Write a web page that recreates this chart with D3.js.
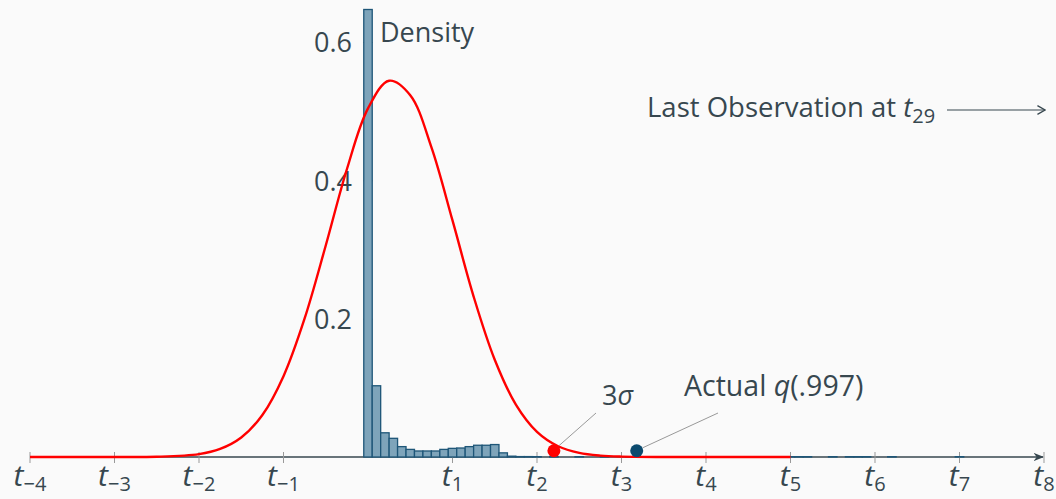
<!DOCTYPE html>
<html><head><meta charset="utf-8">
<script src="https://cdn.jsdelivr.net/npm/d3@7"></script>
<style>
html,body{margin:0;padding:0;background:#fafafa;}
svg{display:block;font-family:"Open Sans",sans-serif;}
</style></head>
<body>
<svg id="c" width="1056" height="499"></svg>
<script>
// ---- data ----
const tickValues = [-4,-3,-2,-1,1,2,3,4,5,6,7,8];
const tickSubs = ["\u22124","\u22123","\u22122","\u22121","1","2","3","4","5","6","7","8"];
const yTicks = [0.2,0.4,0.6];
const yTickLabels = ["0.2","0.4","0.6"];
// histogram: bin centres and densities
const binCenters = [0,0.1,0.2,0.3,0.4,0.5,0.6,0.7,0.8,0.9,1.0,1.1,1.2,1.3,1.4,1.5,1.6,1.7,1.8,1.9,2.0,2.2,2.5,2.8,3.1,3.5,3.9,4.3,4.7,5.0,5.1,5.2,5.5,5.7,5.8,5.9,6.2,7.0];
const binDensity = [0.647,0.103,0.035,0.027,0.015,0.011,0.0087,0.0087,0.0087,0.011,0.0125,0.013,0.015,0.017,0.017,0.018,0.006,0.0012,0.0006,0.0006,0.0005,0.0005,0.0005,0.0005,0.0005,0.0005,0.0005,0.0005,0.0005,0.0005,0.0005,0.0005,0.0005,0.0005,0.0005,0.0005,0.0005,0.0005];
// normal density
const curveT = [-4,-3.5,-3,-2.5,-2,-1.75,-1.5,-1.25,-1,-0.75,-0.5,-0.25,0,0.25,0.5,0.75,1,1.25,1.5,1.75,2,2.25,2.5,2.75,3,3.5,4,4.5,5];
const curveD = [0,0,0.00002,0.0004,0.0042,0.0116,0.0281,0.0607,0.1169,0.2003,0.3058,0.416,0.504,0.544,0.523,0.448,0.342,0.232,0.1406,0.0758,0.0364,0.0156,0.0059,0.002,0.0006,0.00003,0,0,0];
const threeSigmaT = [2.2];
const actualQT = [3.18];
const dotLevel = [0.009];

// ---- scales ----
const svg = d3.select("#c");
const x = d3.scaleLinear().domain([-4, 8]).range([30, 1044]);
const y = d3.scaleLinear().domain([0, 0.6]).range([457, 42]);
const textCol = "#37474f";

// y ticks (no axis line)
const yAxis = d3.axisLeft(y).tickValues(yTicks).tickFormat((d,i)=>yTickLabels[i]).tickSize(5).tickPadding(11);
const yg = svg.append("g").attr("transform", `translate(${x(0)},0)`).call(yAxis);
yg.select(".domain").remove();
yg.selectAll(".tick line").attr("stroke","#aaa").attr("x2",5).attr("x1",-5);
yg.selectAll(".tick text").attr("fill",textCol).attr("font-size",27).attr("font-family","Open Sans").attr("dy","0.36em");

// markers
const defs = svg.append("defs");
defs.append("marker").attr("id","arr").attr("viewBox","0 0 10 10").attr("refX",9).attr("refY",5)
  .attr("markerWidth",7).attr("markerHeight",7).attr("orient","auto")
  .append("path").attr("d","M0,1 L10,5 L0,9 L3,5 Z").attr("fill",textCol);
defs.append("marker").attr("id","arr2").attr("viewBox","0 0 10 10").attr("refX",9).attr("refY",5)
  .attr("markerWidth",9).attr("markerHeight",9).attr("orient","auto")
  .append("path").attr("d","M2,1 L9,5 L2,9").attr("fill","none").attr("stroke",textCol).attr("stroke-width",1.2);

// x axis line
svg.append("line").attr("x1",x(-4)).attr("x2",x(8)-1).attr("y1",y(0)).attr("y2",y(0))
  .attr("stroke",textCol).attr("stroke-width",1.5).attr("marker-end","url(#arr)");

// x ticks
const xg = svg.append("g");
xg.selectAll("line").data(tickValues).join("line")
  .attr("x1",d=>x(d)).attr("x2",d=>x(d)).attr("y1",y(0)-5).attr("y2",y(0)+6)
  .attr("stroke","#999").attr("stroke-width",1);
const lbl = xg.selectAll("text").data(tickValues).join("text")
  .attr("x",d=>x(d)).attr("y",486).attr("text-anchor","middle").attr("fill",textCol).attr("font-size",30);
lbl.append("tspan").attr("font-style","italic").text("t");
lbl.append("tspan").attr("font-size",20).attr("dy",5).text((d,i)=>tickSubs[i]);

// histogram
svg.append("g").selectAll("rect").data(binCenters).join("rect")
  .attr("x",d=>x(d-0.05)).attr("width",d=>x(d+0.05)-x(d-0.05))
  .attr("y",(d,i)=>y(binDensity[i])).attr("height",(d,i)=>y(0)-y(binDensity[i]))
  .attr("fill","#7ea4ba").attr("stroke","#1e5678").attr("stroke-width",1.3);

// normal curve
const line = d3.line().x((d,i)=>x(curveT[i])).y(d=>y(d)).curve(d3.curveCatmullRom.alpha(0.5));
svg.append("path").datum(curveD).attr("d",line).attr("fill","none").attr("stroke","#ff0000").attr("stroke-width",2.4);

// annotation lines
svg.append("line").attr("x1",x(threeSigmaT[0])+5).attr("y1",y(dotLevel[0])-5).attr("x2",596).attr("y2",413).attr("stroke","#999").attr("stroke-width",1);
svg.append("line").attr("x1",x(actualQT[0])+6).attr("y1",y(dotLevel[0])-3).attr("x2",718).attr("y2",413).attr("stroke","#999").attr("stroke-width",1);

// dots
svg.append("circle").attr("cx",x(threeSigmaT[0])).attr("cy",y(dotLevel[0])).attr("r",6.5).attr("fill","#ff0000");
svg.append("circle").attr("cx",x(actualQT[0])).attr("cy",y(dotLevel[0])).attr("r",6.5).attr("fill","#0b4a6e");

// texts
svg.append("text").attr("x",380).attr("y",42).attr("fill",textCol).attr("font-size",27).text("Density");
const s3 = svg.append("text").attr("x",602).attr("y",405).attr("fill",textCol).attr("font-size",27);
s3.append("tspan").text("3");
s3.append("tspan").attr("font-style","italic").text("\u03c3");
const aq = svg.append("text").attr("x",684).attr("y",396).attr("fill",textCol).attr("font-size",28.5);
aq.append("tspan").text("Actual ");
aq.append("tspan").attr("font-style","italic").text("q");
aq.append("tspan").text("(.997)");

const lo = svg.append("text").attr("x",647).attr("y",117).attr("fill",textCol).attr("font-size",27.5);
lo.append("tspan").text("Last Observation at ");
lo.append("tspan").attr("font-style","italic").text("t");
lo.append("tspan").attr("font-size",20).attr("dy",6).text("29");
svg.append("line").attr("x1",947).attr("x2",1045).attr("y1",110).attr("y2",110)
  .attr("stroke",textCol).attr("stroke-width",1.2).attr("marker-end","url(#arr2)");
</script>
</body></html>
